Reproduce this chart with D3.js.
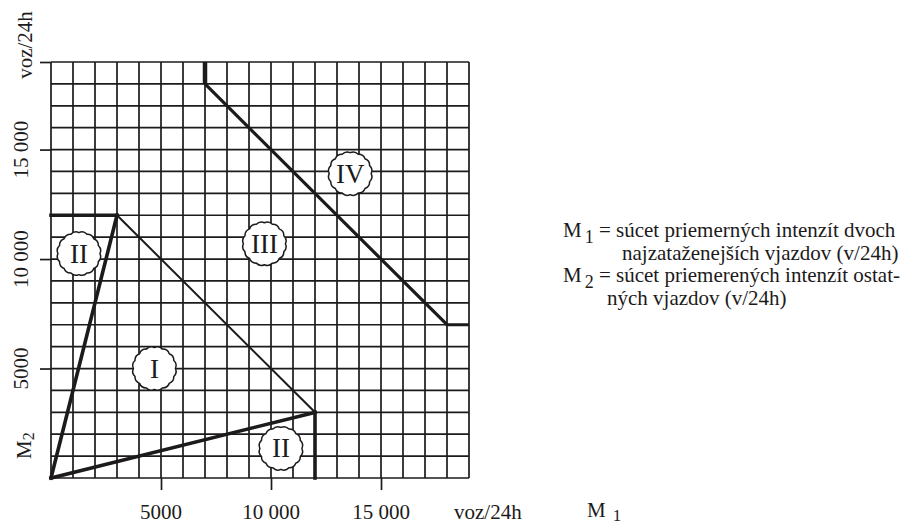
<!DOCTYPE html>
<html>
<head>
<meta charset="utf-8">
<script src="https://cdn.jsdelivr.net/npm/d3@7"></script>
<style>
  body { margin: 0; background: #fff; }
  svg { display: block; }
  text { font-family: "Liberation Serif", "Times New Roman", serif; }
</style>
</head>
<body>
<svg id="chart"></svg>
<script>
// hodnoty odčítané z nomogramu (voz/24h)
const gridStep = 1000;
const axisMax = 19000;
const xTickValues = [5000, 10000, 15000];
const xTickLabels = ["5000", "10 000", "15 000"];
const yTickValues = [5000, 10000, 15000];
const yTickLabels = ["5000", "10 000", "15 000"];

// hranice oblastí [M1, M2]
const thickLines = [
  [[0, 12000], [3000, 12000]],
  [[0, 0], [3000, 12000]],
  [[0, 0], [12000, 3000]],
  [[12000, 3000], [12000, 0]]
];
const thinLines = [
  [[3000, 12000], [12000, 3000]]
];
const lineIV = [[7000, 19000], [7000, 18000], [18000, 7000], [19000, 7000]];

const zoneLabels = ["I", "II", "III", "IV", "II"];
const zoneM1 = [4700, 1270, 9700, 13600, 10450];
const zoneM2 = [5000, 10250, 10700, 13900, 1350];

const legendLines = [
  { sym: "M", sub: "1", text: " = súcet priemerných intenzít dvoch" },
  { text: "najzataženejších vjazdov (v/24h)", indent: 59 },
  { sym: "M", sub: "2", text: " = súcet priemerených intenzít ostat-" },
  { text: "ných vjazdov (v/24h)", indent: 44 }
];

const width = 916, height = 524;
const margin = { left: 51, top: 62, right: 447, bottom: 46 };
const ink = "#1c1a1a";
const serif = "'Liberation Serif', 'Times New Roman', serif";

const svg = d3.select("#chart").attr("width", width).attr("height", height)
  .attr("font-family", serif);

const x = d3.scaleLinear().domain([0, axisMax]).range([margin.left, width - margin.right]);
const y = d3.scaleLinear().domain([0, axisMax]).range([height - margin.bottom, margin.top]);

const gridVals = d3.range(0, axisMax + 1, gridStep);

// mriežka
const grid = svg.append("g");
grid.selectAll(".gx").data(gridVals).enter().append("line")
  .attr("x1", d => x(d)).attr("x2", d => x(d))
  .attr("y1", y(0)).attr("y2", y(axisMax))
  .attr("stroke", ink).attr("stroke-width", 1.7);
grid.selectAll(".gy").data(gridVals).enter().append("line")
  .attr("x1", x(0)).attr("x2", x(axisMax))
  .attr("y1", d => y(d)).attr("y2", d => y(d))
  .attr("stroke", ink).attr("stroke-width", 1.7);

// osi – len značky
svg.append("g")
  .attr("transform", `translate(0,${y(0)})`)
  .call(d3.axisBottom(x).tickValues(xTickValues).tickSize(12).tickFormat(""))
  .call(g => g.select(".domain").remove())
  .selectAll("line").attr("stroke", ink).attr("stroke-width", 1.7);

svg.append("g")
  .attr("transform", `translate(${x(0)},0)`)
  .call(d3.axisLeft(y).tickValues(yTickValues.concat([axisMax])).tickSize(11).tickFormat(""))
  .call(g => g.select(".domain").remove())
  .selectAll("line").attr("stroke", ink).attr("stroke-width", 1.7);

// popisy osi x
svg.selectAll(".xl").data(xTickValues).enter().append("text")
  .attr("x", d => x(d)).attr("y", 519)
  .attr("text-anchor", "middle").attr("font-size", 21).attr("fill", ink)
  .text((d, i) => xTickLabels[i]);

svg.append("text").attr("x", 454).attr("y", 519)
  .attr("font-size", 21).attr("fill", ink).text("voz/24h");

const m1 = svg.append("text").attr("x", 587).attr("y", 517)
  .attr("font-size", 21).attr("fill", ink);
m1.append("tspan").text("M");
m1.append("tspan").attr("dx", 7).attr("dy", 4).attr("font-size", 17).text("1");

// popisy osi y
svg.selectAll(".yl").data(yTickValues).enter().append("text")
  .attr("transform", d => `translate(28,${y(d)}) rotate(-90)`)
  .attr("text-anchor", "middle").attr("font-size", 21).attr("fill", ink)
  .text((d, i) => yTickLabels[i]);

svg.append("text")
  .attr("transform", "translate(32,45) rotate(-90)")
  .attr("text-anchor", "middle").attr("font-size", 21).attr("fill", ink)
  .text("voz/24h");

const m2 = svg.append("text")
  .attr("transform", "translate(31,459) rotate(-90)")
  .attr("font-size", 21).attr("fill", ink);
m2.append("tspan").text("M");
m2.append("tspan").attr("dy", 3).attr("font-size", 16).text("2");

// hranice oblastí
const line = d3.line().x(d => x(d[0])).y(d => y(d[1]));

svg.selectAll(".thin").data(thinLines).enter().append("path")
  .attr("d", line).attr("fill", "none").attr("stroke", ink).attr("stroke-width", 2);

svg.selectAll(".thick").data(thickLines).enter().append("path")
  .attr("d", line).attr("fill", "none").attr("stroke", ink)
  .attr("stroke-width", 3.6).attr("stroke-linecap", "square");

svg.append("path").datum(lineIV)
  .attr("d", line).attr("fill", "none").attr("stroke", ink)
  .attr("stroke-width", 3.2).attr("stroke-linejoin", "miter");
// hrubší zvislý začiatok čiary IV
svg.append("path").datum(lineIV.slice(0, 2))
  .attr("d", line).attr("fill", "none").attr("stroke", ink).attr("stroke-width", 4.5);

// krúžky s označením oblastí (jemne zúbkovaný okraj)
function scallop(r, n) {
  let p = "";
  for (let i = 0; i <= n; i++) {
    const a = (i / n) * 2 * Math.PI;
    const px = r * Math.cos(a), py = r * Math.sin(a);
    p += i === 0 ? `M${px},${py}` : `A7,7 0 0 1 ${px},${py}`;
  }
  return p + "Z";
}

const zones = svg.selectAll(".zone").data(zoneLabels).enter().append("g")
  .attr("transform", (d, i) => `translate(${x(zoneM1[i])},${y(zoneM2[i])})`);
zones.append("path").attr("d", scallop(21, 16))
  .attr("fill", "#fff").attr("stroke", ink).attr("stroke-width", 1.5);
zones.append("text")
  .attr("text-anchor", "middle").attr("y", 9)
  .attr("font-size", 27).attr("fill", ink)
  .text(d => d);

// legenda
const leg = svg.append("g").attr("font-size", 21).attr("fill", ink);
legendLines.forEach((l, i) => {
  const t = leg.append("text").attr("x", 563 + (l.indent || 0)).attr("y", 237 + i * 22.5);
  if (l.sym) {
    t.append("tspan").text(l.sym);
    t.append("tspan").attr("dx", 3).attr("dy", 6).attr("font-size", 18).text(l.sub);
    t.append("tspan").attr("dy", -6).text(l.text);
  } else {
    t.text(l.text);
  }
});
</script>
</body>
</html>
